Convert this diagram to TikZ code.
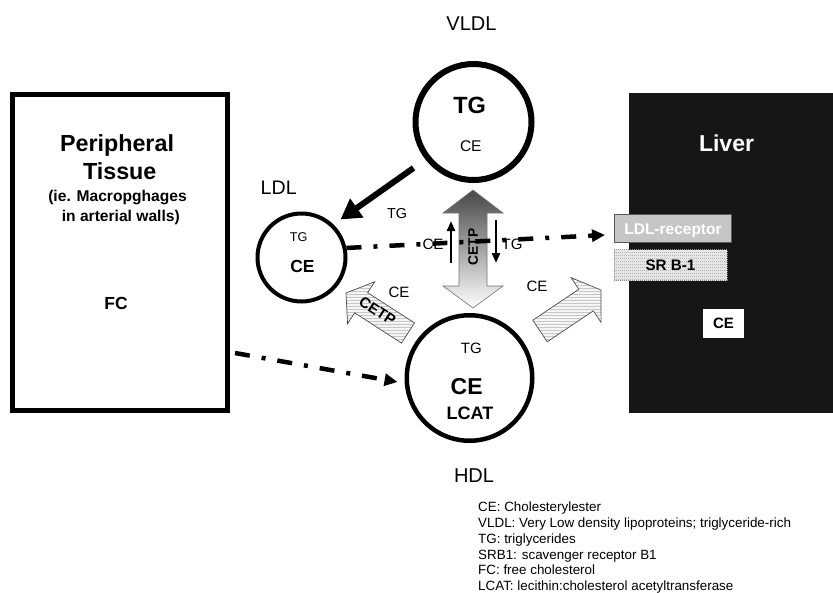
\documentclass[tikz,border=0pt]{standalone}
\usepackage{fontspec}
\setmainfont{Liberation Sans}
\usetikzlibrary{arrows.meta,calc,patterns}
\definecolor{liverc}{HTML}{161616}
\definecolor{recfill}{HTML}{C6C6C6}
\newcommand\blockarr[6]{%
  \coordinate (ba-b) at ($(#2)!#5!(#1)$);
  \draw[#6] ($(#1)!#3!90:(#2)$) -- ($(ba-b)!#3!90:(#2)$) -- ($(ba-b)!#4!90:(#2)$) -- (#2)
    -- ($(ba-b)!#4!-90:(#2)$) -- ($(ba-b)!#3!-90:(#2)$) -- ($(#1)!#3!-90:(#2)$) -- cycle;}
\begin{document}
\begin{tikzpicture}[x=1pt,y=-1pt,
  nt/.style={inner sep=0,anchor=base,font=\fontsize{#1pt}{#1pt}\selectfont},
  bt/.style={inner sep=0,anchor=base,font=\fontsize{#1pt}{#1pt}\selectfont\bfseries},
  ring/.style={circle,draw,inner sep=0},
  hatch/.style={draw=black!70,line width=0.7pt,preaction={fill=black!4},pattern=horizontal lines,pattern color=black!22},
  dashdot/.style={line width=4.5pt,dash pattern=on 15pt off 12pt on 4pt off 12pt,-{Triangle[length=13pt,width=12pt]}},
  capbox/.style={inner sep=0,text height=#1,text depth=0pt}]
\useasboundingbox (0,0) rectangle (833,592);
% peripheral tissue
\node[draw,line width=5pt,minimum width=215pt,minimum height=316pt,inner sep=0] (per) at (120,252.5) {};
\node[bt=23.3] (per1) at (117,151.3) {Peripheral};
\node[bt=23.3] (per2) at (119.7,179.3) {Tissue};
\node[bt=15.6] (per3) at (117.5,201) {(ie. Macropghages};
\node[bt=15.6] (per4) at (120.8,221.6) {in arterial walls)};
\node[bt=17.5] (fc) at (116,309.3) {FC};
% liver
\node[fill=liverc,minimum width=204pt,minimum height=320pt,inner sep=0,outer sep=0] (liver) at (731,253) {};
\node[bt=23,text=white] (livt) at (726.5,151) {Liver};
\node[capbox=11.2pt,fill=recfill,draw=black!65,line width=1pt,minimum width=117pt,minimum height=28pt,text=white,font=\fontsize{15.5pt}{15.5pt}\selectfont\bfseries] (rec) at (673,228.5) {LDL-receptor};
\node[capbox=10.9pt,draw=black!45,dash pattern=on 1pt off 1pt,line width=0.8pt,preaction={fill=black!10},pattern=horizontal lines,pattern color=black!28,minimum width=113pt,minimum height=31pt,font=\fontsize{15.2pt}{15.2pt}\selectfont\bfseries] (srb) at (670.5,265) {SR B-1};
\node[capbox=10.7pt,fill=white,minimum width=41pt,minimum height=29pt,font=\fontsize{15pt}{15pt}\selectfont\bfseries] (livce) at (723.5,323.5) {CE};
% lipoproteins
\node[ring,line width=6pt,minimum size=116pt] (vldl) at (473.5,122) {};
\node[ring,line width=4pt,minimum size=88pt] (ldl) at (301.5,257.5) {};
\node[ring,line width=4.5pt,minimum size=125.5pt] (hdl) at (469.5,378) {};
\node[nt=20] (vldlt) at (471.5,30.2) {VLDL};
\node[bt=23.5] (vtg) at (469.7,113.4) {TG};
\node[nt=15.5] (vce) at (470.8,151.5) {CE};
\node[nt=19.6] (ldlt) at (278.7,194) {LDL};
\node[nt=12.7] (ltg) at (298.8,241.5) {TG};
\node[bt=17.5] (lce) at (302.5,272.3) {CE};
\node[nt=15] (htg) at (471.3,353.4) {TG};
\node[bt=23] (hce) at (466.7,394.2) {CE};
\node[bt=18] (hlcat) at (470,419.4) {LCAT};
\node[nt=20] (hdlt) at (474,482.2) {HDL};
% hatched block arrows
\coordinate (h1s) at (408,333); \coordinate (h1t) at (346,293);
\blockarr{h1s}{h1t}{12pt}{25pt}{18pt}{hatch}
\coordinate (h2s) at (540,331); \coordinate (h2t) at (601,290);
\blockarr{h2s}{h2t}{13pt}{27pt}{18pt}{hatch}
\node[inner sep=0,rotate=-33,font=\fontsize{15pt}{15pt}\selectfont\bfseries] (cetp1) at (377.5,311) {CETP};
% vertical CETP double arrow
\shadedraw[top color=black!72,bottom color=white,draw=black!55,line width=0.6pt]
  (473,190) -- (503,213) -- (487,213) -- (487,286) -- (503,286) -- (473,308)
  -- (443,286) -- (459,286) -- (459,213) -- (443,213) -- cycle;
\node[inner sep=0,rotate=90,font=\fontsize{13.8pt}{13.8pt}\selectfont\bfseries] (cetp2) at (473,247) {CETP};
\coordinate (ua1) at (451,263); \coordinate (ua2) at (451,221);
\coordinate (da1) at (496,220); \coordinate (da2) at (496,263);
\draw[line width=2.8pt,-{Triangle[length=10pt,width=8pt]}] (ua1) -- (ua2);
\draw[line width=2.8pt,-{Triangle[length=10pt,width=8pt]}] (da1) -- (da2);
% labels
\node[nt=14.4] (tg1) at (397,218.2) {TG};
\node[nt=15] (ce1) at (433,249.4) {CE};
\node[nt=15] (tg2) at (512,249.4) {TG};
\node[nt=15] (ce2) at (399,297) {CE};
\node[nt=15] (ce3) at (537,291.4) {CE};
% dash-dot connectors
\coordinate (rtip) at ($(rec.west)+(-9,6.5)$);
\draw[dashdot] (ldl.12) -- (rtip);
\coordinate (pst) at ($(per.east)+(5,100.5)$);
\coordinate (htip) at ($(hdl.west)+(-7,4)$);
\draw[dashdot] (pst) -- (htip);
% VLDL -> LDL
\coordinate (vs) at ($(vldl.center)+(-60,46)$);
\coordinate (ve) at ($(ldl.center)+(39,-38)$);
\draw[line width=6pt,-{Triangle[length=20pt,width=22pt]}] (vs) -- (ve);
% legend
\node[nt=13.4,anchor=base west] (leg1) at (478,511.8) {CE: Cholesterylester};
\node[nt=13.4,anchor=base west] (leg2) at (478,527.6) {VLDL: Very Low density lipoproteins; triglyceride-rich};
\node[nt=13.4,anchor=base west] (leg3) at (478,543.2) {TG: triglycerides};
\node[nt=13.4,anchor=base west] (leg4) at (478,559) {SRB1: scavenger receptor B1};
\node[nt=13.4,anchor=base west] (leg5) at (478,574.8) {FC: free cholesterol};
\node[nt=13.4,anchor=base west] (leg6) at (478,590.6) {LCAT: lecithin:cholesterol acetyltransferase};
\end{tikzpicture}
\end{document}
